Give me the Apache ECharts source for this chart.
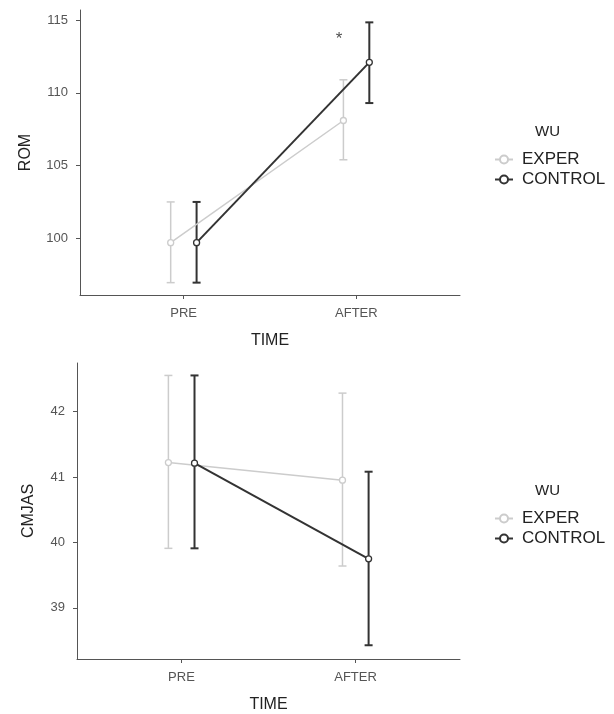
<!DOCTYPE html>
<html>
<head>
<meta charset="utf-8">
<script src="https://cdn.jsdelivr.net/npm/echarts@6/dist/echarts.min.js"></script>
<style>
  html, body { margin: 0; padding: 0; background: #fff; }
  #chart { width: 614px; height: 714px; }
</style>
</head>
<body>
<div id="chart"></div>
<script>
// categories
const times = ['PRE', 'AFTER']
const groups = ['EXPER', 'CONTROL']

// ROM panel
const romTicks = [100, 105, 110, 115]
const romExper = [99.7, 108.1]
const romExperLo = [96.95, 105.4]
const romExperHi = [102.5, 110.9]
const romControl = [99.7, 112.1]
const romControlLo = [96.95, 109.3]
const romControlHi = [102.5, 114.85]
const romStar = [2, 113.9] // significance mark near AFTER

// CMJAS panel
const cmjTicks = [39, 40, 41, 42]
const cmjExper = [41.22, 40.95]
const cmjExperLo = [39.91, 39.64]
const cmjExperHi = [42.55, 42.28]
const cmjControl = [41.21, 39.75]
const cmjControlLo = [39.91, 38.43]
const cmjControlHi = [42.55, 41.08]

const dodge = 0.075
const expColor = '#cccccc'
const ctlColor = '#333333'
const font = 'Liberation Sans, Arial, sans-serif'

var myChart = echarts.init(document.getElementById('chart'))

function pts(vals, off) {
	return vals.map((v, i) => [i + 1 + off, v])
}
function bars(lo, hi, off) {
	return lo.map((v, i) => [i + 1 + off, v, hi[i]])
}

function errSeries(name, idx, lo, hi, off, color, lw) {
	return {
		name: name,
		type: 'custom',
		xAxisIndex: idx,
		yAxisIndex: idx,
		z: 2,
		itemStyle: { color: color },
		data: bars(lo, hi, off),
		renderItem: function (params, api) {
			const top = api.coord([api.value(0), api.value(2)])
			const bot = api.coord([api.value(0), api.value(1)])
			const w = 4
			const st = { stroke: color, lineWidth: lw }
			return {
				type: 'group',
				children: [
					{ type: 'line', shape: { x1: top[0], y1: top[1], x2: bot[0], y2: bot[1] }, style: st },
					{ type: 'line', shape: { x1: top[0] - w, y1: top[1], x2: top[0] + w, y2: top[1] }, style: st },
					{ type: 'line', shape: { x1: bot[0] - w, y1: bot[1], x2: bot[0] + w, y2: bot[1] }, style: st }
				]
			}
		}
	}
}

function lineSeries(name, idx, vals, off, color, lw) {
	return {
		name: name,
		type: 'line',
		xAxisIndex: idx,
		yAxisIndex: idx,
		z: 3,
		symbol: 'circle',
		symbolSize: 6,
		itemStyle: { color: '#fff', borderColor: color, borderWidth: 1.3 },
		lineStyle: { color: color, width: lw },
		data: pts(vals, off)
	}
}

function xAxisCfg(idx) {
	return {
		type: 'value',
		gridIndex: idx,
		min: 0.4,
		max: 2.6,
		name: 'TIME',
		nameLocation: 'middle',
		nameGap: 38,
		nameTextStyle: { fontFamily: font, fontSize: 16, color: '#222' },
		splitLine: { show: false },
		axisLine: { lineStyle: { color: '#555', width: 1 } },
		axisTick: { customValues: [1, 2], length: 4, lineStyle: { color: '#555' } },
		axisLabel: {
			customValues: [1, 2],
			formatter: v => times[Math.round(v) - 1],
			fontFamily: font, fontSize: 13, color: '#555', margin: 12
		}
	}
}

function yAxisCfg(idx, name, min, max, ticks, gap) {
	return {
		type: 'value',
		gridIndex: idx,
		min: min,
		max: max,
		name: name,
		nameLocation: 'middle',
		nameGap: gap,
		nameTextStyle: { fontFamily: font, fontSize: 16, color: '#222' },
		splitLine: { show: false },
		axisLine: { show: true, lineStyle: { color: '#555', width: 1 } },
		axisTick: { show: true, customValues: ticks, length: 4, lineStyle: { color: '#555' } },
		axisLabel: { customValues: ticks, fontFamily: font, fontSize: 13, color: '#555', margin: 12 }
	}
}

function legendCfg(top) {
	return {
		orient: 'vertical',
		left: 489,
		top: top,
		itemGap: 3,
		itemWidth: 18,
		itemHeight: 10,
		data: groups,
		selectedMode: false,
		textStyle: { fontFamily: font, fontSize: 17, color: '#222', padding: [0, 0, 0, 4] }
	}
}

let option = {
	animation: false,
	backgroundColor: '#fff',
	grid: [
		{ left: 80, top: 10, width: 380, height: 285 },
		{ left: 77, top: 363, width: 383, height: 297 }
	],
	xAxis: [xAxisCfg(0), xAxisCfg(1)],
	yAxis: [
		yAxisCfg(0, 'ROM', 96.1, 115.7, romTicks, 46),
		yAxisCfg(1, 'CMJAS', 38.22, 42.74, cmjTicks, 40)
	],
	legend: [legendCfg(146), legendCfg(505)],
	graphic: [
		{ type: 'text', left: 535, top: 124, style: { text: 'WU', font: '15px ' + font, fill: '#222' } },
		{ type: 'text', left: 535, top: 483, style: { text: 'WU', font: '15px ' + font, fill: '#222' } }
	],
	series: [
		lineSeries('EXPER', 0, romExper, -dodge, expColor, 1.5),
		lineSeries('CONTROL', 0, romControl, dodge, ctlColor, 2),
		errSeries('EXPER', 0, romExperLo, romExperHi, -dodge, expColor, 1.5),
		errSeries('CONTROL', 0, romControlLo, romControlHi, dodge, ctlColor, 2),
		lineSeries('EXPER', 1, cmjExper, -dodge, expColor, 1.5),
		lineSeries('CONTROL', 1, cmjControl, dodge, ctlColor, 2),
		errSeries('EXPER', 1, cmjExperLo, cmjExperHi, -dodge, expColor, 1.5),
		errSeries('CONTROL', 1, cmjControlLo, cmjControlHi, dodge, ctlColor, 2),
		{
			type: 'scatter',
			xAxisIndex: 0,
			yAxisIndex: 0,
			symbolSize: 0,
			z: 4,
			silent: true,
			data: [[romStar[0] - 0.1, romStar[1]]],
			label: {
				show: true,
				position: 'inside',
				formatter: '*',
				fontFamily: font,
				fontSize: 17,
				color: '#222',
				offset: [0, 3]
			}
		}
	]
}

myChart.setOption(option)
</script>
</body>
</html>
